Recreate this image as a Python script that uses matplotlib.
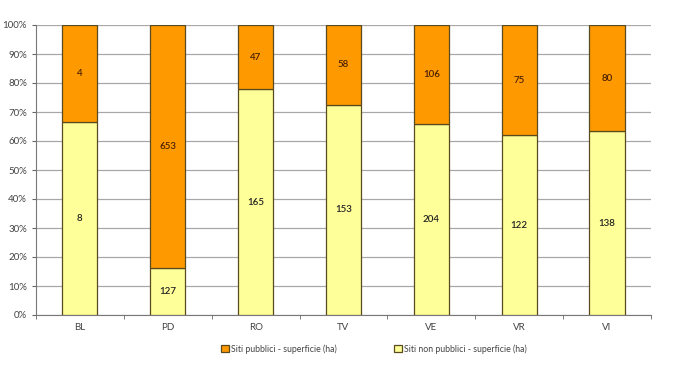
import matplotlib
matplotlib.use("Agg")
import matplotlib.pyplot as plt
import numpy as np
from matplotlib.ticker import FixedLocator, PercentFormatter

categories = ["BL", "PD", "RO", "TV", "VE", "VR", "VI"]
pubblici = [4, 653, 47, 58, 106, 75, 80]
non_pubblici = [8, 127, 165, 153, 204, 122, 138]
label_pub = "Siti pubblici - superficie (ha)"
label_non = "Siti non pubblici - superficie (ha)"

plt.rcParams['font.family'] = ['Lato', 'DejaVu Sans']

pub = np.array(pubblici, dtype=float)
non = np.array(non_pubblici, dtype=float)
tot = pub + non
non_pct = non / tot * 100
pub_pct = pub / tot * 100

fig = plt.figure(figsize=(6.73, 3.68), dpi=100)
ax = fig.add_axes([36/673, 53/368, 615/673, 290/368])

x = np.arange(len(categories))
w = 0.4
edge = "#5a4a20"
b1 = ax.bar(x, non_pct, w, color="#FFFF99", edgecolor=edge, linewidth=0.9,
            label=label_non, zorder=3)
b2 = ax.bar(x, pub_pct, w, bottom=non_pct, color="#FF9900", edgecolor=edge,
            linewidth=0.9, label=label_pub, zorder=3)

for i in range(len(categories)):
    ax.text(x[i], non_pct[i] / 2, str(non_pubblici[i]), ha="center", va="center",
            fontsize=7, fontweight="semibold", color="#222222", zorder=4)
    ax.text(x[i], non_pct[i] + pub_pct[i] / 2, str(pubblici[i]), ha="center",
            va="center", fontsize=7, fontweight="semibold", color="#4a2000", zorder=4)

ax.set_xlim(-0.5, len(categories) - 0.5)
ax.set_ylim(0, 100)
ax.yaxis.set_major_locator(FixedLocator(np.arange(0, 101, 10)))
ax.yaxis.set_major_formatter(PercentFormatter(decimals=0))
ax.grid(axis="y", color="#a8a8a8", linewidth=0.9, zorder=0)
ax.set_xticks(x)
ax.set_xticklabels(categories)
ax.tick_params(axis="x", length=0, labelsize=7, pad=6, colors="#444444")
ax.set_xticks(np.arange(-0.5, len(categories), 1), minor=True)
ax.tick_params(axis="x", which="minor", length=3, color="#666666", direction="out")
ax.tick_params(axis="y", length=3, labelsize=7, colors="#444444", color="#666666")
for s in ["top", "right"]:
    ax.spines[s].set_visible(False)
ax.spines["left"].set_color("#777777")
ax.spines["bottom"].set_color("#777777")

handles = [b2, b1]
fig.legend(handles, [label_pub, label_non], loc="center", ncol=2,
           bbox_to_anchor=(374/673, 1 - 349/368), frameon=False, fontsize=6.3,
           labelcolor="#444444",
           handlelength=0.9, handleheight=0.9, columnspacing=6.5, handletextpad=0.3)

fig.savefig("out.png", dpi=100)
